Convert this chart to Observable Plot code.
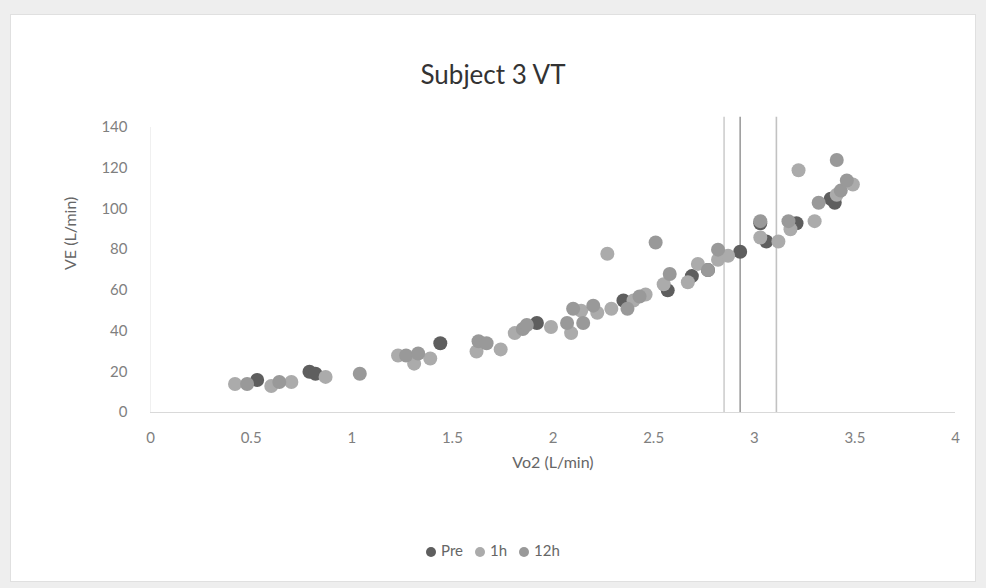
<!DOCTYPE html>
<html>
<head>
<meta charset="utf-8">
<script src="https://cdn.jsdelivr.net/npm/d3@7"></script>
<script src="https://cdn.jsdelivr.net/npm/@observablehq/plot@0.6"></script>
<style>
  html, body { margin: 0; padding: 0; background: #eeeeee; }
  #page { position: relative; width: 986px; height: 588px; overflow: hidden; font-family: Lato, "Open Sans", sans-serif; }
  #frame { position: absolute; left: 10px; top: 14px; width: 966px; height: 568px; background: #ffffff; border: 1px solid #e0e0e0; box-sizing: border-box; }
  #chart { position: absolute; left: 0; top: 0; width: 986px; }
  #title { height: 100px; box-sizing: border-box; padding-top: 58px; text-align: center; font-size: 26px; line-height: 32px; color: #333333; }
  #legend { height: 88px; box-sizing: border-box; padding-top: 40px; text-align: center; font-size: 15px; line-height: 20px; color: #666666; }
  .item { display: inline-block; margin: 0 6px; }
  .sw { display: inline-block; width: 10px; height: 10px; border-radius: 50%; margin-right: 5px; vertical-align: -1px; }
</style>
</head>
<body>
<div id="page">
  <div id="frame"></div>
  <div id="chart">
    <div id="title">Subject 3 VT</div>
    <div id="plot"></div>
    <div id="legend"></div>
  </div>
</div>
<script>
// ---- data ----
const seriesNames = ["Pre", "1h", "12h"];

const preX = [0.53, 0.79, 0.82, 1.44, 1.92, 2.35, 2.57, 2.69, 2.77, 2.93, 3.03, 3.06, 3.21, 3.38, 3.40];
const preY = [16, 20, 19, 34, 44, 55, 60, 67, 70, 79, 93, 84, 93, 105, 103];

const h1X = [0.42, 0.60, 0.70, 0.87, 1.23, 1.31, 1.39, 1.62, 1.74, 1.81, 1.99, 2.09, 2.14, 2.22, 2.29, 2.40, 2.46, 2.27, 2.55, 2.67, 2.72, 2.82, 2.87, 3.03, 3.12, 3.18, 3.30, 3.41, 3.49, 3.22];
const h1Y = [14, 13, 15, 17.5, 28, 24, 26.5, 30, 31, 39, 42, 39, 50, 49, 51, 55, 58, 78, 63, 64, 73, 75, 77, 86, 84, 90, 94, 107, 112, 119];

const h12X = [0.48, 0.64, 1.04, 1.27, 1.33, 1.63, 1.67, 1.85, 1.87, 2.07, 2.10, 2.15, 2.20, 2.37, 2.43, 2.51, 2.58, 2.77, 2.82, 3.03, 3.17, 3.32, 3.43, 3.46, 3.41];
const h12Y = [14, 15, 19, 28, 29, 35, 34, 41, 43, 44, 51, 44, 52.5, 51, 57, 83.5, 68, 70, 80, 94, 94, 103, 109, 114, 124];

// ventilatory threshold lines (VO2 values)
const vtSeries = ["1h", "Pre", "12h"];
const vtX = [2.85, 2.93, 3.11];
const vtTop = 145;

const xTicks = [0, 0.5, 1, 1.5, 2, 2.5, 3, 3.5, 4];
const yTicks = [0, 20, 40, 60, 80, 100, 120, 140];

// ---- build tables ----
const points = [
  ...preX.map((x, i) => ({series: "Pre", x, y: preY[i]})),
  ...h1X.map((x, i) => ({series: "1h", x, y: h1Y[i]})),
  ...h12X.map((x, i) => ({series: "12h", x, y: h12Y[i]}))
];
const vtLines = vtX.map((x, i) => ({series: vtSeries[i], x}));

const colors = ["#5e5e5e", "#ababab", "#999999"];

const chart = Plot.plot({
  width: 986,
  height: 400,
  marginLeft: 150,
  marginRight: 31,
  marginTop: 27,
  marginBottom: 88,
  style: {fontFamily: "Lato, 'Open Sans', sans-serif", fontSize: "15px", color: "#7f7f7f", background: "transparent", overflow: "visible"},
  x: {domain: [0, 4], ticks: xTicks, tickSize: 0, tickPadding: 20, label: null, tickFormat: d => String(d)},
  y: {domain: [0, 140], ticks: yTicks, tickSize: 0, tickPadding: 23, label: null},
  color: {domain: seriesNames, range: colors},
  marks: [
    Plot.ruleX([0], {stroke: "#f0f0f0"}),
    Plot.ruleY([0], {stroke: "#d9d9d9"}),
    Plot.ruleX(vtLines, {x: "x", y1: 0, y2: vtTop, stroke: "series", strokeOpacity: 0.6, strokeWidth: 1.6, clip: false}),
    Plot.dot(points, {x: "x", y: "y", fill: "series", r: 7, stroke: null}),
    Plot.text(["VE (L/min)"], {frameAnchor: "left", dx: -80, rotate: -90, fontSize: 16, fill: "#666666"}),
    Plot.text(["Vo2 (L/min)"], {frameAnchor: "bottom", dy: 55, fontSize: 16, fill: "#666666"})
  ]
});
document.getElementById("plot").appendChild(chart);

// legend
const legend = document.getElementById("legend");
seriesNames.forEach((name, i) => {
  const item = document.createElement("span");
  item.className = "item";
  const sw = document.createElement("span");
  sw.className = "sw";
  sw.style.background = colors[i];
  item.appendChild(sw);
  item.appendChild(document.createTextNode(name));
  legend.appendChild(item);
});
</script>
</body>
</html>
